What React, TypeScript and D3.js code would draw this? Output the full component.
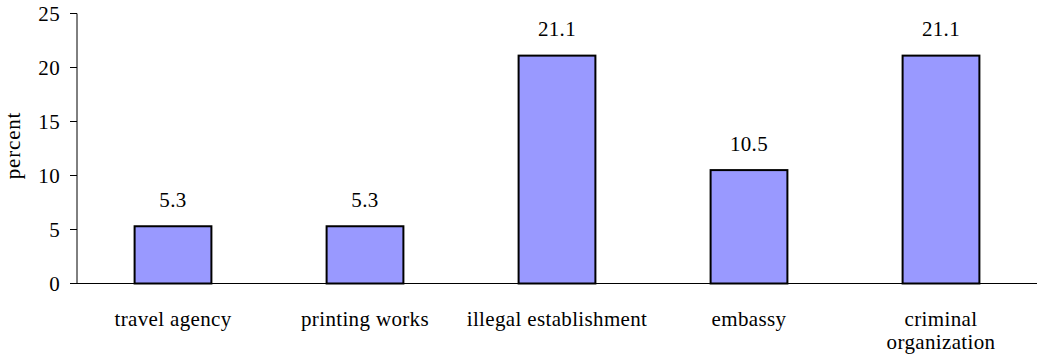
import React from "react";
import * as d3 from "d3";

const categories: string[][] = [
  ["travel agency"],
  ["printing works"],
  ["illegal establishment"],
  ["embassy"],
  ["criminal", "organization"],
];
const values: number[] = [5.3, 5.3, 21.1, 10.5, 21.1];
const valueLabels: string[] = ["5.3", "5.3", "21.1", "10.5", "21.1"];
const yTicks: number[] = [0, 5, 10, 15, 20, 25];
const yLabel = "percent";

const W = 1037;
const H = 360;
const margin = { left: 77, right: 0, top: 13.5, bottom: 76.5 };
const FONT = "Liberation Serif, Times New Roman, Times, serif";
const FS = 21;

export default function App() {
  const x = d3
    .scaleBand<number>()
    .domain(values.map((_, i) => i))
    .range([margin.left, W - margin.right])
    .paddingInner(0.6)
    .paddingOuter(0.3);
  const y = d3.scaleLinear().domain([0, 25]).range([H - margin.bottom, margin.top]);
  const y0 = y(0);
  const ts: React.CSSProperties = { fontFamily: FONT, fontSize: FS, letterSpacing: "0.35px" };

  return (
    <svg
      width={W}
      height={H}
      style={{ position: "absolute", left: 0, top: 0, display: "block", fontFamily: FONT, fontSize: FS }}
    >
      <rect x={0} y={0} width={W} height={H} fill="#fff" />
      {values.map((v, i) => (
        <rect
          key={"b" + i}
          x={x(i)!}
          y={y(v)}
          width={x.bandwidth()}
          height={y0 - y(v)}
          fill="#9999FF"
          stroke="#000"
          strokeWidth={2}
        />
      ))}
      {values.map((v, i) => (
        <text
          key={"v" + i}
          x={x(i)! + x.bandwidth() / 2}
          y={y(v) - 19.5}
          textAnchor="middle"
          fill="#000"
          style={ts}
        >
          {valueLabels[i]}
        </text>
      ))}
      <line x1={margin.left} x2={margin.left} y1={y(25)} y2={y0} stroke="#000" strokeWidth={1} />
      {yTicks.map((t) => (
        <g key={"t" + t}>
          <line x1={margin.left - 7} x2={margin.left} y1={y(t)} y2={y(t)} stroke="#000" strokeWidth={1} />
          <text x={margin.left - 17} y={y(t)} dy="0.35em" textAnchor="end" fill="#000" style={ts}>
            {t}
          </text>
        </g>
      ))}
      <line x1={margin.left} x2={W} y1={y0} y2={y0} stroke="#000" strokeWidth={1} />
      {categories.map((lines, i) => (
        <text
          key={"c" + i}
          x={x(i)! + x.bandwidth() / 2}
          y={y0 + 42}
          textAnchor="middle"
          fill="#000"
          style={ts}
        >
          {lines.map((l, j) => (
            <tspan key={j} x={x(i)! + x.bandwidth() / 2} dy={j === 0 ? 0 : 23}>
              {l}
            </tspan>
          ))}
        </text>
      ))}
      <text
        transform={`translate(20,${(y(25) + y0) / 2 - 3}) rotate(-90)`}
        textAnchor="middle"
        fill="#000"
        style={{ ...ts, letterSpacing: "0.8px" }}
      >
        {yLabel}
      </text>
    </svg>
  );
}
